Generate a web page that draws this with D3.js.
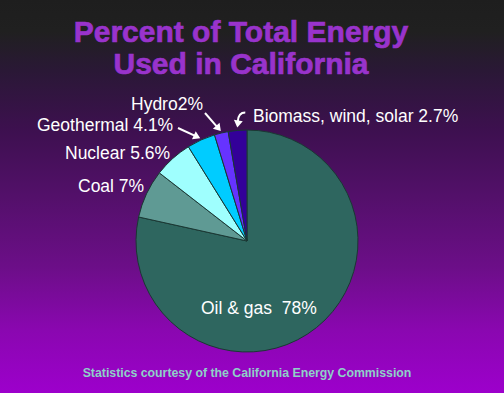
<!DOCTYPE html>
<html>
<head>
  <meta charset="utf-8">
  <title>Percent of Total Energy Used in California</title>
  <style>
  body { margin: 0; background: #1e1e1e; }
  svg { display: block; }
  .title { font-family: "Liberation Sans", Arial, sans-serif; font-weight: bold; fill: #9933cc; stroke: #9933cc; stroke-width: 0.7px; font-size: 30px; }
  .label { font-family: "Liberation Sans", Arial, sans-serif; fill: #fff; font-size: 17.5px; white-space: pre; }
  .note { font-family: "Liberation Sans", Arial, sans-serif; font-weight: bold; fill: #8fd0c8; font-size: 12.3px; }
  </style>
</head>
<body>
<svg width="504" height="393"></svg>
<script src="https://d3js.org/d3.v7.min.js"></script>
<script>

var categories = ["Oil & gas", "Coal", "Nuclear", "Geothermal", "Hydro", "Biomass, wind, solar"];
var values = [78, 7, 5.6, 4.1, 2, 2.7];
var labelTexts = ["Oil & gas  78%", "Coal 7%", "Nuclear 5.6%", "Geothermal 4.1%", "Hydro2%", "Biomass, wind, solar 2.7%"];
var colors = ["#2e665f", "#5f9a94", "#9ffffe", "#00ccff", "#6633ff", "#330099"];

var svg = d3.select("svg"),
    width = +svg.attr("width"),
    height = +svg.attr("height");

// background gradient, dark grey at top to purple at bottom
var grad = svg.append("defs").append("linearGradient")
    .attr("id", "bg").attr("x1", 0).attr("y1", 0).attr("x2", 0).attr("y2", 1);
[[0, "#1e1e1e"], [0.08, "#202020"], [0.18, "#2a1836"], [0.33, "#3d104f"], [0.5, "#53106a"],
 [0.68, "#6c0e88"], [0.84, "#8a07b0"], [1, "#9d00cc"]].forEach(function(s) {
  grad.append("stop").attr("offset", s[0]).attr("stop-color", s[1]);
});
svg.append("rect").attr("width", width).attr("height", height).attr("fill", "url(#bg)");

svg.append("text").attr("class", "title").attr("x", 241).attr("y", 42)
    .attr("text-anchor", "middle").text("Percent of Total Energy");
svg.append("text").attr("class", "title").attr("x", 241).attr("y", 74)
    .attr("text-anchor", "middle").text("Used in California");

var cx = 247, cy = 241, radius = 111;

var pie = d3.pie().sort(null).value(function(d) { return d; });
var arcs = pie(values);
var arc = d3.arc().innerRadius(0).outerRadius(radius);

var g = svg.append("g").attr("transform", "translate(" + cx + "," + cy + ")");

g.selectAll("path")
    .data(arcs)
  .enter().append("path")
    .attr("d", arc)
    .attr("fill", function(d, i) { return colors[i]; })
    .attr("stroke", "#1a3833")
    .attr("stroke-width", 1);

// label anchors (x of text start, baseline y), in page coords
var labelPos = [[201, 314], [78, 192], [65, 159], [37, 131], [131, 110], [253, 122]];

svg.selectAll("text.label")
    .data(arcs)
  .enter().append("text")
    .attr("class", "label")
    .attr("x", function(d, i) { return labelPos[i][0]; })
    .attr("y", function(d, i) { return labelPos[i][1]; })
    .text(function(d, i) { return labelTexts[i]; });

// arrows pointing at the small slices
function tip(d, r) {
  var a = (d.startAngle + d.endAngle) / 2;
  return [cx + r * Math.sin(a), cy - r * Math.cos(a)];
}

function arrowHead(p, ang) {
  var len = 7, w = 4.5;
  var ux = Math.cos(ang), uy = Math.sin(ang);
  var bx = p[0] - ux * len, by = p[1] - uy * len;
  return "M" + p[0] + "," + p[1] +
    "L" + (bx - uy * w) + "," + (by + ux * w) +
    "L" + (bx + uy * w) + "," + (by - ux * w) + "Z";
}

var arrows = svg.append("g");

[[3, [178, 128]], [4, [205, 113]]].forEach(function(a) {
  var t = tip(arcs[a[0]], 113);
  var s = a[1];
  var ang = Math.atan2(t[1] - s[1], t[0] - s[0]);
  var e = [t[0] - Math.cos(ang) * 5, t[1] - Math.sin(ang) * 5];
  arrows.append("line")
      .attr("x1", s[0]).attr("y1", s[1]).attr("x2", e[0]).attr("y2", e[1])
      .attr("stroke", "#fff").attr("stroke-width", 2);
  arrows.append("path").attr("d", arrowHead(t, ang)).attr("fill", "#fff");
});

// curved arrow for biomass
var bt = tip(arcs[5], 114);
arrows.append("path")
    .attr("d", "M" + (bt[0] + 8) + "," + (bt[1] - 15) +
      "Q" + (bt[0] + 1) + "," + (bt[1] - 15) + " " + (bt[0] + 0.5) + "," + (bt[1] - 6))
    .attr("fill", "none").attr("stroke", "#fff").attr("stroke-width", 2);
arrows.append("path").attr("d", arrowHead(bt, Math.PI / 2 + 0.15)).attr("fill", "#fff");

svg.append("text").attr("class", "note").attr("x", 247).attr("y", 377)
    .attr("text-anchor", "middle").text("Statistics courtesy of the California Energy Commission");

</script>
</body>
</html>
